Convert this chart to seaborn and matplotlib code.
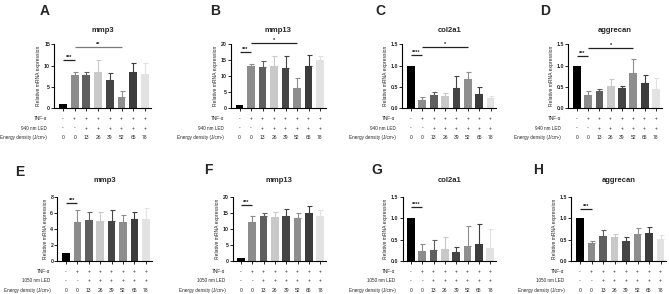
import numpy as np
import pandas as pd
import matplotlib.pyplot as plt
import seaborn as sns

sns.set_style("white")
plt.rcParams['font.family'] = ['Liberation Sans', 'DejaVu Sans']

W, H = 669, 294

# ---- shared table rows / colours ----
tnf = ["-", "+", "+", "+", "+", "+", "+", "+"]
led = ["-", "-", "+", "+", "+", "+", "+", "+"]
energy = ["0", "0", "13", "26", "39", "52", "65", "78"]
bar_colors = ["#000000", "#8c8c8c", "#5f5f5f", "#c9c9c9",
              "#454545", "#8e8e8e", "#3c3c3c", "#e2e2e2"]

# ---- values (mean, upper SD) ----
mmp3_940 = [1.0, 7.7, 7.7, 8.4, 6.7, 2.7, 8.4, 8.1]
mmp3_940_sd = [0.0, 0.7, 0.7, 2.9, 1.5, 1.4, 2.2, 2.5]
mmp13_940 = [1.0, 13.2, 12.9, 13.2, 12.5, 6.4, 13.2, 15.1]
mmp13_940_sd = [0.0, 0.65, 1.9, 3.0, 3.7, 3.1, 3.5, 1.2]
col2a1_940 = [1.0, 0.195, 0.31, 0.28, 0.47, 0.68, 0.34, 0.24]
col2a1_940_sd = [0.0, 0.065, 0.065, 0.07, 0.28, 0.18, 0.15, 0.04]
aggrecan_940 = [1.0, 0.30, 0.41, 0.53, 0.47, 0.83, 0.60, 0.445]
aggrecan_940_sd = [0.0, 0.10, 0.035, 0.15, 0.045, 0.32, 0.18, 0.26]

mmp3_1050 = [1.0, 4.9, 5.17, 5.04, 5.04, 4.9, 5.25, 5.3]
mmp3_1050_sd = [0.0, 1.43, 1.0, 1.13, 1.3, 0.85, 0.92, 1.3]
mmp13_1050 = [1.0, 12.3, 14.06, 13.75, 14.2, 13.5, 15.0, 14.2]
mmp13_1050_sd = [0.0, 1.66, 1.04, 1.55, 2.05, 1.4, 2.1, 1.8]
col2a1_1050 = [1.0, 0.24, 0.25, 0.27, 0.20, 0.34, 0.40, 0.31]
col2a1_1050_sd = [0.0, 0.15, 0.24, 0.29, 0.13, 0.47, 0.47, 0.44]
aggrecan_1050 = [1.0, 0.43, 0.59, 0.56, 0.48, 0.625, 0.65, 0.51]
aggrecan_1050_sd = [0.0, 0.05, 0.14, 0.065, 0.08, 0.145, 0.15, 0.10]

# ---- panel settings ----
panels = [
    dict(letter="A", title="mmp3", led="940 nm LED", y=mmp3_940, sd=mmp3_940_sd,
         ticks=[0, 5, 10, 15], fmt="{:g}", c0=63, s=11.7, row=0, lx=45, ly=11,
         sig=[(0, 1, 11.4, "***", "#222222"), (1, 5, 14.3, "**", "#7a7a7a")]),
    dict(letter="B", title="mmp13", led="940 nm LED", y=mmp13_940, sd=mmp13_940_sd,
         ticks=[0, 5, 10, 15, 20], fmt="{:g}", c0=239.5, s=11.5, row=0, lx=215, ly=11,
         sig=[(0, 1, 17.5, "***", "#222222"), (1, 5, 20.5, "*", "#222222")]),
    dict(letter="C", title="col2a1", led="940 nm LED", y=col2a1_940, sd=col2a1_940_sd,
         ticks=[0, 0.5, 1.0, 1.5], fmt="{:.1f}", c0=411, s=11.36, row=0, lx=380, ly=11,
         sig=[(0, 1, 1.25, "****", "#222222"), (1, 5, 1.44, "*", "#222222")]),
    dict(letter="D", title="aggrecan", led="940 nm LED", y=aggrecan_940, sd=aggrecan_940_sd,
         ticks=[0, 0.5, 1.0, 1.5], fmt="{:.1f}", c0=576.7, s=11.33, row=0, lx=545, ly=11,
         sig=[(0, 1, 1.23, "***", "#222222"), (1, 5, 1.42, "*", "#222222")]),
    dict(letter="E", title="mmp3", led="1050 nm LED", y=mmp3_1050, sd=mmp3_1050_sd,
         ticks=[0, 2, 4, 6, 8], fmt="{:g}", c0=66, s=11.4, row=1, lx=20, ly=172,
         sig=[(0, 1, 7.2, "***", "#222222")]),
    dict(letter="F", title="mmp13", led="1050 nm LED", y=mmp13_1050, sd=mmp13_1050_sd,
         ticks=[0, 5, 10, 15, 20], fmt="{:g}", c0=241, s=11.3, row=1, lx=208, ly=170,
         sig=[(0, 1, 17.4, "***", "#222222")]),
    dict(letter="G", title="col2a1", led="1050 nm LED", y=col2a1_1050, sd=col2a1_1050_sd,
         ticks=[0, 0.5, 1.0, 1.5], fmt="{:.1f}", c0=411, s=11.3, row=1, lx=377, ly=170,
         sig=[(0, 1, 1.27, "****", "#222222")]),
    dict(letter="H", title="aggrecan", led="1050 nm LED", y=aggrecan_1050, sd=aggrecan_1050_sd,
         ticks=[0, 0.5, 1.0, 1.5], fmt="{:.1f}", c0=580, s=11.5, row=1, lx=538, ly=170,
         sig=[(0, 1, 1.23, "***", "#222222")]),
]

row_top = [44.3, 197]
row_bot = [108.3, 261]
title_y = [31, 180]

fig = plt.figure(figsize=(W / 100, H / 100), dpi=100)

for p in panels:
    r = p["row"]
    left = p["c0"] - 0.75 * p["s"]
    right = p["c0"] + 7.5 * p["s"]
    ax = fig.add_axes([left / W, 1 - row_bot[r] / H,
                       (right - left) / W, (row_bot[r] - row_top[r]) / H])
    df = pd.DataFrame({"grp": np.arange(8), "val": p["y"]})
    sns.barplot(data=df, x="grp", y="val", hue="grp", palette=bar_colors,
                legend=False, width=0.68, errorbar=None, ax=ax, linewidth=0)
    for i in range(8):
        if p["sd"][i] > 0:
            ax.errorbar(i, p["y"][i], yerr=[[0], [p["sd"][i]]], fmt="none",
                        ecolor=bar_colors[i], elinewidth=0.8, capsize=1.8,
                        capthick=0.8)
    ax.set_xlim(-0.75, 7.5)
    ax.set_ylim(0, p["ticks"][-1])
    ax.set_yticks(p["ticks"])
    ax.set_yticklabels([p["fmt"].format(t) for t in p["ticks"]], fontsize=3.8,
                       fontweight="bold")
    ax.set_xticks(range(8))
    ax.set_xticklabels([])
    ax.tick_params(axis="both", length=2, width=0.7, pad=1, direction="out",
                   left=True, bottom=True)
    for side in ["top", "right"]:
        ax.spines[side].set_visible(False)
    for side in ["left", "bottom"]:
        ax.spines[side].set_linewidth(0.8)
        ax.spines[side].set_color("black")
    ax.set_xlabel("")
    ax.set_ylabel("Relative mRNA expression", fontsize=3.6, labelpad=2)

    # significance brackets
    for x1, x2, yy, stars, col in p["sig"]:
        ax.plot([x1, x2], [yy, yy], color=col, lw=0.9, clip_on=False,
                solid_capstyle="butt")
        ax.text((x1 + x2) / 2, yy, stars, ha="center", va="bottom",
                fontsize=4, fontweight="bold", color="#222222")

    # panel title and letter
    fig.text(((left + right) / 2) / W, 1 - title_y[r] / H, p["title"],
             ha="center", va="center", fontsize=5.5, fontweight="bold")
    fig.text(p["lx"] / W, 1 - p["ly"] / H, p["letter"], ha="center",
             va="center", fontsize=10, fontweight="bold")

    # treatment table under the axis
    rows = [("TNF-\u03b1", tnf), (p["led"], led),
            ("Energy density (J/cm\u00b2)", energy)]
    for k, (lab, vals) in enumerate(rows):
        ypx = row_bot[r] + 10.5 + 9.3 * k
        yfrac = 1 - ypx / H
        fig.text((left - 7) / W, yfrac, lab, ha="right", va="center",
                 fontsize=3.3)
        for i, v in enumerate(vals):
            fig.text((p["c0"] + i * p["s"]) / W, yfrac, v, ha="center",
                     va="center", fontsize=3.6)

fig.savefig("out.png", dpi=100)
